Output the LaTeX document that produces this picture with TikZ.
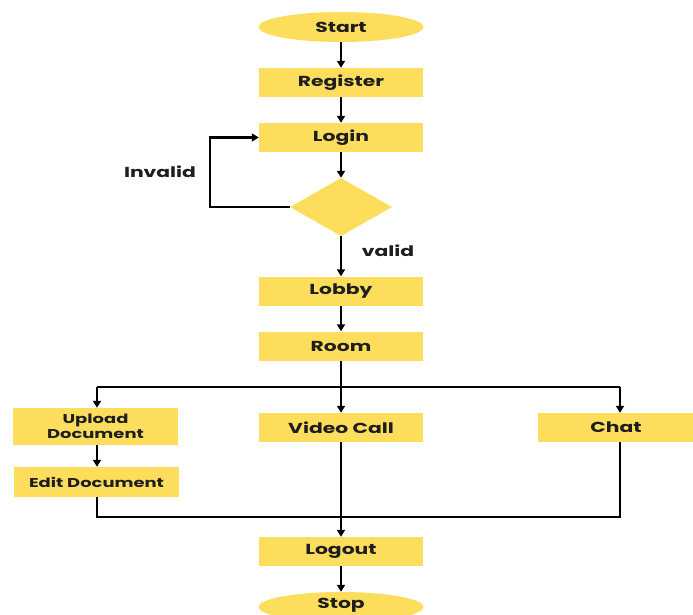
\documentclass[tikz,border=0pt]{standalone}
\usepackage{fontspec}
\setmainfont{Poppins}[BoldFont={* Bold}]
\newfontfamily\widefont{Poppins}[BoldFont={* Bold}, FakeStretch=1.4]
\usetikzlibrary{shapes.geometric,arrows.meta}
\definecolor{boxyellow}{RGB}{253,221,92}
\definecolor{txt}{RGB}{30,30,30}
\tikzset{
  x=1pt,y=-1pt,
  every node/.style={font=\widefont\bfseries\fontsize{14.5}{15}\selectfont, text=txt, align=center, inner sep=0pt},
  procbox/.style={fill=boxyellow, minimum width=164, minimum height=29},
  termin/.style={ellipse, fill=boxyellow, minimum width=165, minimum height=30},
  decis/.style={diamond, fill=boxyellow, minimum width=102, minimum height=58},
  conn/.style={draw=black, line width=2.3pt},
  arr/.style={conn, -{Triangle[length=7pt,width=8pt]}},
  smalltext/.style={font=\widefont\bfseries\fontsize{12.8}{15.5}\selectfont}
}
\begin{document}
\begin{tikzpicture}
\useasboundingbox (0,0) rectangle (693,614);
\fill[white] (0,0) rectangle (693,614);
\node[termin] (start) at (341,27) {Start};
\node[procbox] (register) at (341,82.5) {Register};
\node[procbox] (login) at (341,137.5) {Login};
\node[decis] (dec) at (341,207) {};
\node[procbox] (lobby) at (341,291) {Lobby};
\node[procbox] (room) at (341,346) {Room};
\node[procbox, smalltext, minimum width=165, minimum height=37] (upload) at (95.5,426.5) {Upload\\Document};
\node[procbox, smalltext, minimum width=165, minimum height=30] (edit) at (96.5,482) {Edit Document};
\node[procbox] (video) at (341,427.5) {Video Call};
\node[procbox, minimum width=156, minimum height=29] (chat) at (616,427.5) {Chat};
\node[procbox] (logout) at (341,551.5) {Logout};
\node[termin] (stop) at (341,607) {};
\node at (341,605) {Stop};
\node (invalid) at (160,172) {Invalid};
\node (valid) at (388,251) {valid};
\coordinate (lc1) at (210,207);
\coordinate (lc2) at (210,137.5);
\coordinate (br) at (341,387);
\coordinate (brl) at (97,387);
\coordinate (brr) at (620,387);
\coordinate (mg) at (341,517);
\coordinate (mgl) at (97,517);
\coordinate (mgr) at (620,517);

\draw[arr] (start) -- (register);
\draw[arr] (register) -- (login);
\draw[arr] (login) -- (dec);
\draw[arr] (dec.west) -- (lc1) -- (lc2) -- (login.west);
\draw[arr] (dec) -- (lobby);
\draw[arr] (lobby) -- (room);
\draw[arr] (room) -- (video);
\draw[conn] (brl) -- (brr);
\draw[arr] (brl) -- (brl |- upload.north);
\draw[arr] (brr) -- (brr |- chat.north);
\draw[arr] (upload.south -| brl) -- (edit.north -| brl);
\draw[conn] (edit.south -| mgl) -- (mgl) -- (mgr) -- (chat.south -| mgr);
\draw[arr] (video) -- (logout);
\draw[arr] (logout) -- (stop);
\end{tikzpicture}
\end{document}
